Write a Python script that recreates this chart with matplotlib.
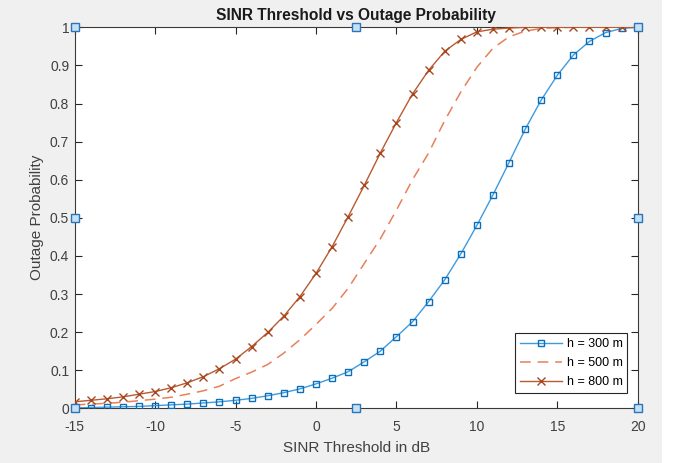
import matplotlib
matplotlib.use("Agg")
import matplotlib.pyplot as plt
import matplotlib.patches as mpatches

plt.rcParams['font.family'] = ['Liberation Sans', 'DejaVu Sans']

sinr_db = list(range(-15, 21))
p_300 = [0.001, 0.002, 0.003, 0.004, 0.005, 0.007, 0.009, 0.011, 0.014, 0.017,
         0.021, 0.026, 0.033, 0.041, 0.051, 0.064, 0.079, 0.096, 0.122, 0.150,
         0.188, 0.227, 0.280, 0.337, 0.405, 0.480, 0.560, 0.645, 0.732, 0.809,
         0.874, 0.927, 0.963, 0.986, 0.997, 1.000]
p_500 = [0.009, 0.011, 0.013, 0.016, 0.020, 0.024, 0.029, 0.037, 0.046, 0.058,
         0.078, 0.095, 0.115, 0.145, 0.180, 0.220, 0.262, 0.315, 0.380, 0.445,
         0.520, 0.600, 0.670, 0.755, 0.830, 0.895, 0.945, 0.975, 0.990, 0.997,
         0.999, 1.000, 1.000, 1.000, 1.000, 1.000]
p_800 = [0.017, 0.021, 0.025, 0.030, 0.037, 0.044, 0.054, 0.067, 0.083, 0.104,
         0.129, 0.162, 0.199, 0.242, 0.293, 0.354, 0.424, 0.503, 0.585, 0.670,
         0.750, 0.825, 0.887, 0.937, 0.968, 0.988, 0.995, 0.998, 1.000, 1.000,
         1.000, 1.000, 1.000, 1.000, 1.000, 1.000]
labels = ['h = 300 m', 'h = 500 m', 'h = 800 m']
x_ticks = [-15, -10, -5, 0, 5, 10, 15, 20]
y_ticks = [0, 0.1, 0.2, 0.3, 0.4, 0.5, 0.6, 0.7, 0.8, 0.9, 1]
y_tick_labels = ['0', '0.1', '0.2', '0.3', '0.4', '0.5', '0.6', '0.7', '0.8', '0.9', '1']

W, H = 681, 463
fig = plt.figure(figsize=(W / 100, H / 100), dpi=100)
fig.patch.set_facecolor('white')
# gray figure background (MATLAB style), white strip at right
fig.patches.append(mpatches.Rectangle((0, 0), 662 / W, 1, transform=fig.transFigure,
                                      facecolor='#f0f0f0', edgecolor='none', zorder=-10))

ax = fig.add_axes([74.7 / W, 1 - 408.3 / H, (637.7 - 74.7) / W, (408.3 - 27.3) / H])
ax.set_facecolor('white')

ax.plot(sinr_db, p_300, color='#3d9be0', lw=1.0, marker='s', ms=3.7,
        mfc='none', mec='#0a6fba', mew=1.0, label=labels[0], zorder=3)
ax.plot(sinr_db, p_500, color='#e8805a', lw=1.1, dashes=(7, 4.5), label=labels[1], zorder=3)
ax.plot(sinr_db, p_800, color='#b85a32', lw=1.0, marker='x', ms=6.0,
        mec='#a8461e', mew=1.0, label=labels[2], zorder=3)

ax.set_xlim(-15, 20)
ax.set_ylim(0, 1)
ax.set_xticks(x_ticks)
ax.set_xticklabels([str(t) for t in x_ticks])
ax.set_yticks(y_ticks)
ax.set_yticklabels(y_tick_labels)
axis_col = '#262626'
ax.tick_params(direction='in', top=True, right=True, length=5, width=0.8,
               colors=axis_col, labelsize=10, pad=4)
ax.tick_params(axis='x', labelcolor='#404040', pad=8.5)
ax.tick_params(axis='y', labelcolor='#404040')
for s in ax.spines.values():
    s.set_color('#3a3a3a')
    s.set_linewidth(0.8)

ax.set_title('SINR Threshold vs Outage Probability', fontsize=11.2, fontweight='bold',
             color='#1a1a1a', pad=5.5)
ax.set_xlabel('SINR Threshold in dB', fontsize=11, color='#404040', labelpad=5)
ax.set_ylabel('Outage Probability', fontsize=11, color='#404040', labelpad=4)

leg = ax.legend(loc='lower right', bbox_to_anchor=(0.981, 0.040), borderaxespad=0,
                fontsize=9, frameon=True, fancybox=False,
                handlelength=3.4, handletextpad=0.35, borderpad=0.37, labelspacing=0.58,
                framealpha=1)
leg.get_frame().set_edgecolor('#262626')
leg.get_frame().set_linewidth(0.8)

# selection handles (MATLAB edit mode)
hx = [-15, -15, -15, 2.5, 20, 20, 20, 2.5]
hy = [0, 0.5, 1, 1, 1, 0.5, 0, 0]
ax.plot(hx, hy, ls='none', marker='s', ms=5.5, mfc='#c6e0f4', mec='#2a74b8',
        mew=1.0, clip_on=False, zorder=10)

fig.savefig('out.png', dpi=100)
